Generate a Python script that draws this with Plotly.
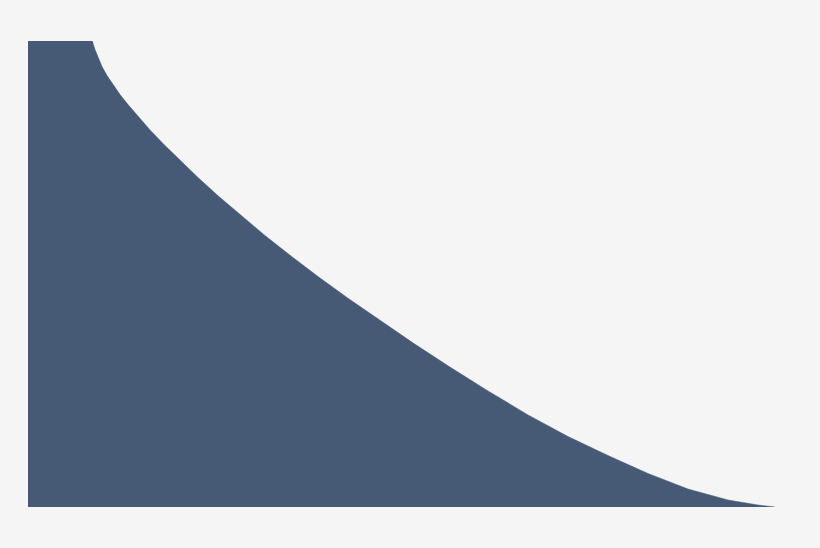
import plotly.graph_objects as go

# Curve (x: distance along, y: height)
x_vals = [0, 64.3, 67, 70, 74, 79, 85, 92, 100, 110, 122, 136, 152, 170, 190, 212, 236,
          262, 290, 320, 352, 386, 422, 460, 500, 540, 580, 620, 660, 700, 730, 747]
y_vals = [466, 466, 457.4, 449.3, 440.5, 431.5, 422.2, 412.5, 402.4, 390.5, 377.1, 362.4,
          346.6, 329.5, 311.3, 292.2, 272.3, 251.8, 230.5, 208.8, 186.4, 163.4, 139.9,
          116.1, 92.1, 70.5, 51.5, 33.5, 18, 7, 2, 0]

FILL = "#465a75"
BG = "#f5f5f5"

fig = go.Figure()
fig.add_trace(go.Scatter(
    x=x_vals, y=y_vals,
    mode="lines",
    line=dict(color=FILL, width=0.5, shape="linear"),
    fill="tozeroy",
    fillcolor=FILL,
    hoverinfo="skip",
    showlegend=False,
))

fig.update_layout(
    width=820, height=548,
    margin=dict(l=28, r=45, t=41, b=41),
    paper_bgcolor=BG, plot_bgcolor=BG,
    xaxis=dict(range=[0, 747], visible=False, fixedrange=True),
    yaxis=dict(range=[0, 466], visible=False, fixedrange=True),
)

fig.write_html(
    "out.html",
    config={"displayModeBar": False},
    post_script="document.body.style.margin='0';document.body.style.background='%s';" % BG,
)
